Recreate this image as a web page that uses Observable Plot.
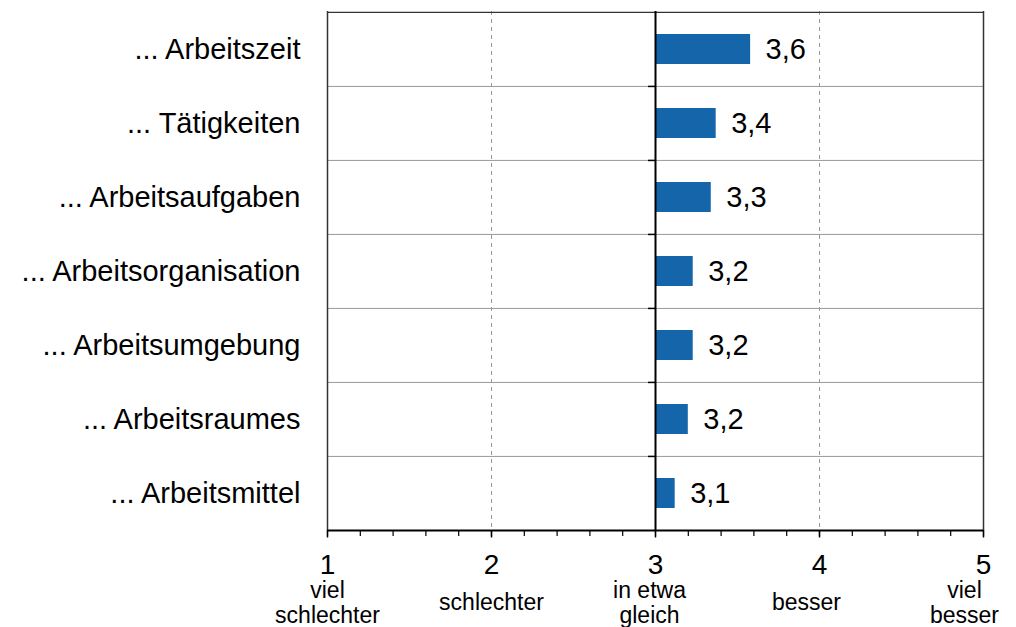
<!DOCTYPE html>
<html>
<head>
<meta charset="utf-8">
<script src="https://cdn.jsdelivr.net/npm/d3@7"></script>
<script src="https://cdn.jsdelivr.net/npm/@observablehq/plot@0.6"></script>
<style>
  html, body { margin: 0; padding: 0; background: #fff; }
  #chart svg { display: block; }
</style>
</head>
<body>
<div id="chart"></div>
<script>
const categories = ["... Arbeitszeit", "... Tätigkeiten", "... Arbeitsaufgaben", "... Arbeitsorganisation", "... Arbeitsumgebung", "... Arbeitsraumes", "... Arbeitsmittel"];
const values = [3.58, 3.37, 3.34, 3.23, 3.23, 3.20, 3.12];
const tickValues = [1, 2, 3, 4, 5];
const tickLabels = ["viel\nschlechter", "schlechter", "in etwa\ngleich", "besser", "viel\nbesser"];
const labelShift = [0, 0, -6, -13, -19];
const minorTicks = d3.range(1, 5.001, 0.2).map(v => +v.toFixed(1));

const data = categories.map((c, i) => ({cat: c, value: values[i]}));
const fmt = v => d3.format(".1f")(v).replace(".", ",");

const W = 1016, H = 627, mT = 11, mB = 97, mL = 327, mR = 33;
const step = (H - mT - mB) / categories.length;
const font = "'Liberation Sans', Arial, Helvetica, sans-serif";

const chart = Plot.plot({
  width: W,
  height: H,
  marginTop: mT,
  marginBottom: mB,
  marginLeft: mL,
  marginRight: mR,
  style: {fontFamily: font, color: "#000", background: "#fff"},
  x: {domain: [1, 5], axis: null},
  y: {domain: categories, paddingInner: 0.595, paddingOuter: 0.2975, axis: null},
  marks: [
    Plot.ruleX([2, 4], {stroke: "#999", strokeDasharray: "4,4", strokeWidth: 1}),
    Plot.ruleY(categories.slice(1), {dy: -step / 2, stroke: "#999", strokeWidth: 1}),
    Plot.ruleY([categories[0]], {dy: -step / 2, stroke: "#333", strokeWidth: 1.2}),
    Plot.ruleX([1, 5], {stroke: "#333", strokeWidth: 1.5}),
    Plot.barX(data, {x1: 3, x2: "value", y: "cat", fill: "#1565aa"}),
    Plot.ruleX([3], {stroke: "#000", strokeWidth: 2}),
    Plot.ruleY(categories.slice(1), {dy: -step / 2, x1: 3, x2: 3, insetLeft: -7, stroke: "#000", strokeWidth: 1.5}),
    Plot.ruleY([categories[categories.length - 1]], {dy: step / 2, stroke: "#000", strokeWidth: 2}),
    Plot.text(data, {x: "value", y: "cat", text: d => fmt(d.value), textAnchor: "start", dx: 15, fontSize: 29, fill: "#000"}),
    Plot.axisY({anchor: "left", tickSize: 0, tickPadding: 27, fontSize: 29, label: null, fill: "#000"}),
    Plot.axisX({ticks: minorTicks, tickSize: 6, tickFormat: () => "", label: null, stroke: "#000", strokeWidth: 1.2}),
    Plot.axisX({ticks: tickValues, tickSize: 7.5, tickPadding: 16, fontSize: 28, tickFormat: d => String(d), label: null, stroke: "#000", strokeWidth: 1.5, fill: "#000"}),
    ...tickValues.map((v, i) => Plot.text([tickLabels[i]], {
      x: () => v,
      text: d => d,
      frameAnchor: "bottom",
      dy: 72,
      dx: labelShift[i],
      lineAnchor: "middle",
      lineHeight: 1.06,
      fontSize: 23,
      fill: "#000"
    }))
  ]
});

document.getElementById("chart").appendChild(chart);
</script>
</body>
</html>
